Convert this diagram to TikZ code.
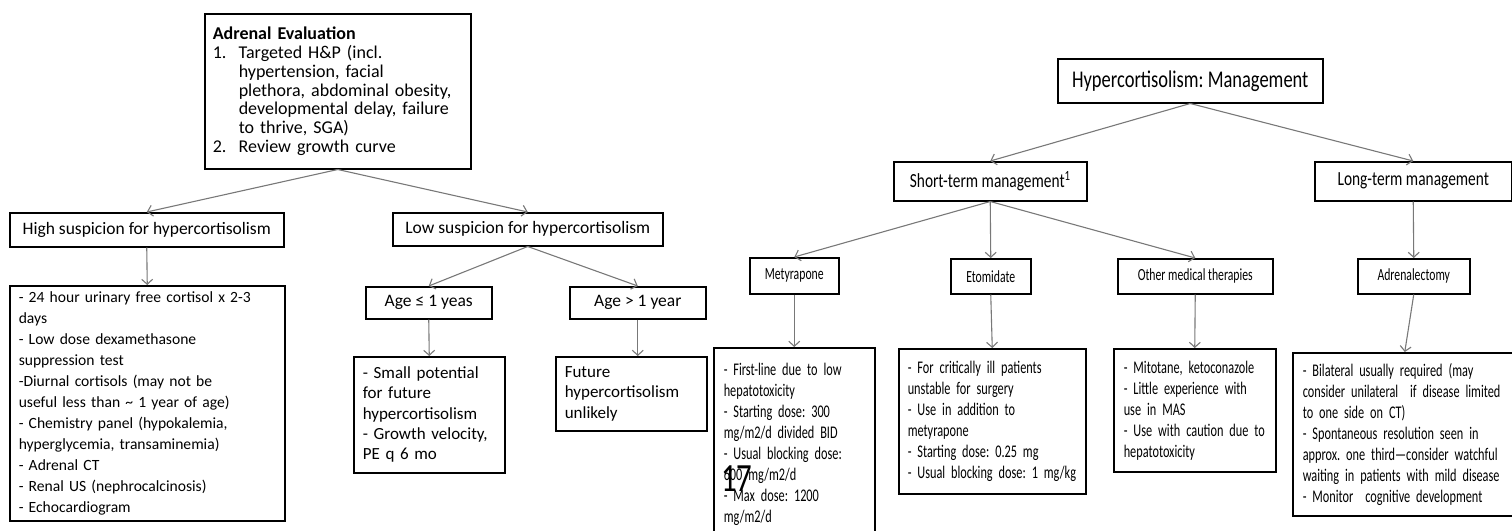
\documentclass[tikz,border=0pt]{standalone}
\usepackage{fontspec}
\setmainfont{Carlito}
\newfontfamily\narrowfont[FakeStretch=0.77]{Carlito}
\newfontfamily\notefont[FakeStretch=0.69]{Carlito}
\usetikzlibrary{arrows.meta}
\definecolor{linkgray}{RGB}{120,120,120}
\frenchspacing
\hyphenpenalty=10000
\begin{document}
\begin{tikzpicture}[x=1pt,y=-1pt,
  box/.style={draw=black,line width=1.5pt,inner sep=0pt,anchor=north west},
  leftbox/.style={box,font=\fontsize{17.5}{21}\selectfont},
  notebox/.style={box,align=left,font=\notefont\fontsize{17.8}{21}\selectfont},
  smallbox/.style={box,font=\notefont\fontsize{17}{19}\selectfont},
  link/.style={draw=linkgray,line width=1.1pt,-{Straight Barb[length=5pt,width=11pt]}}]
\useasboundingbox (0,0) rectangle (1512,530);
\clip (0,0) rectangle (1512,530);
% left tree
\node[box,minimum width=266pt,minimum height=155pt,text width=250pt,align=left,
  font=\fontsize{18}{18.7}\selectfont] (eval) at (204,13)
  {\textbf{Adrenal Evaluation}\\
   \makebox[26pt][l]{1.}Targeted H\&P (incl.\\
   \hspace*{26pt}hypertension, facial\\
   \hspace*{26pt}plethora, abdominal obesity,\\
   \hspace*{26pt}developmental delay, failure\\
   \hspace*{26pt}to thrive, SGA)\\
   \makebox[26pt][l]{2.}Review growth curve};
\node[leftbox,minimum width=274pt,minimum height=34pt] (high) at (9,212) {High suspicion for hypercortisolism};
\node[leftbox,minimum width=270pt,minimum height=33pt] (low) at (392,212) {Low suspicion for hypercortisolism};
\node[leftbox,minimum width=275pt,minimum height=235pt,text width=257pt,align=left,
  font=\fontsize{15.6}{21}\selectfont] (tests) at (9,285)
  {- 24 hour urinary free cortisol x 2-3\\
   days\\
   - Low dose dexamethasone\\
   suppression test\\
   -Diurnal cortisols (may not be\\
   useful less than \textasciitilde{} 1 year of age)\\
   - Chemistry panel (hypokalemia,\\
   hyperglycemia, transaminemia)\\
   - Adrenal CT\\
   - Renal US (nephrocalcinosis)\\
   - Echocardiogram};
\node[leftbox,minimum width=126pt,minimum height=32pt] (young) at (365,286) {Age ≤ 1 yeas};
\node[leftbox,minimum width=136pt,minimum height=32pt] (old) at (569,286) {Age > 1 year};
\node[leftbox,minimum width=151pt,minimum height=116pt,text width=133pt,align=left,
  font=\fontsize{17}{20.3}\selectfont] (younger) at (353,356)
  {- Small potential\\
   for future\\
   hypercortisolism\\
   - Growth velocity,\\
   PE q 6 mo};
\node[leftbox,minimum width=151pt,minimum height=74pt,text width=133pt,align=left,
  font=\fontsize{17}{20.3}\selectfont] (older) at (555,356)
  {Future\\
   hypercortisolism\\
   unlikely};
\draw[link] (eval.south) -- (high.north);
\draw[link] (eval.south) -- (low.north);
\draw[link] (high.south) -- (tests.north);
\draw[link] (low.south) -- (young.north);
\draw[link] (low.south) -- (old.north);
\draw[link] (young.south) -- (younger.north);
\draw[link] (old.south) -- (old.south |- older.north);
% right tree
\node[box,minimum width=265pt,minimum height=44pt,font=\narrowfont\fontsize{24}{28}\selectfont] (mgmt) at (1057,58) {Hypercortisolism: Management};
\node[box,minimum width=193pt,minimum height=39pt,font=\narrowfont\fontsize{20}{24}\selectfont] (short) at (893,161) {Short-term management\textsuperscript{1}};
\node[box,minimum width=197pt,minimum height=39pt,font=\narrowfont\fontsize{20}{24}\selectfont] (long) at (1314,161) {Long-term management};
\node[smallbox,minimum width=89pt,minimum height=36pt] (mety) at (749,257) {Metyrapone};
\node[smallbox,minimum width=80pt,minimum height=35pt] (etom) at (950,258) {Etomidate};
\node[smallbox,minimum width=155pt,minimum height=35pt] (other) at (1117,258) {Other medical therapies};
\node[smallbox,minimum width=112pt,minimum height=35pt] (adrx) at (1357,258) {Adrenalectomy};
\node[notebox,minimum width=161pt,minimum height=193pt,text width=141pt] (metynote) at (713,347)
  {- First-line due to low\\
   hepatotoxicity\\
   - Starting dose: 300\\
   mg/m2/d divided BID\\
   - Usual blocking dose:\\
   600 mg/m2/d\\
   - Max dose: 1200\\
   mg/m2/d};
\node[notebox,minimum width=187pt,minimum height=145pt,text width=169pt] (etomnote) at (898,348)
  {- For critically ill patients\\
   unstable for surgery\\
   - Use in addition to\\
   metyrapone\\
   - Starting dose: 0.25 mg\\
   - Usual blocking dose: 1 mg/kg};
\node[notebox,minimum width=162pt,minimum height=123pt,text width=142pt] (othernote) at (1113,348)
  {- Mitotane, ketoconazole\\
   - Little experience with\\
   use in MAS\\
   - Use with caution due to\\
   hepatotoxicity};
\node[notebox,minimum width=224pt,minimum height=163pt,text width=204pt] (adrxnote) at (1292,352)
  {- Bilateral usually required (may\\
   consider unilateral\ \ if disease limited\\
   to one side on CT)\\
   - Spontaneous resolution seen in\\
   approx. one third—consider watchful\\
   waiting in patients with mild disease\\
   - Monitor\ \ cognitive development};
\node[anchor=north west,inner sep=0pt,font=\narrowfont\fontsize{40}{40}\selectfont] (page) at (721,466) {17};
\draw[link] (mgmt.south) -- (short.north);
\draw[link] (mgmt.south) -- (long.north);
\draw[link] (short.south) -- (mety.north);
\draw[link] (short.south) -- (etom.north);
\draw[link] (short.south) -- (other.north);
\draw[link] (long.south) -- (adrx.north);
\draw[link] (mety.south) -- (metynote.north);
\draw[link] (etom.south) -- (etomnote.north);
\draw[link] (other.south) -- (othernote.north);
\draw[link] (adrx.south) -- (adrxnote.north);
\end{tikzpicture}
\end{document}
